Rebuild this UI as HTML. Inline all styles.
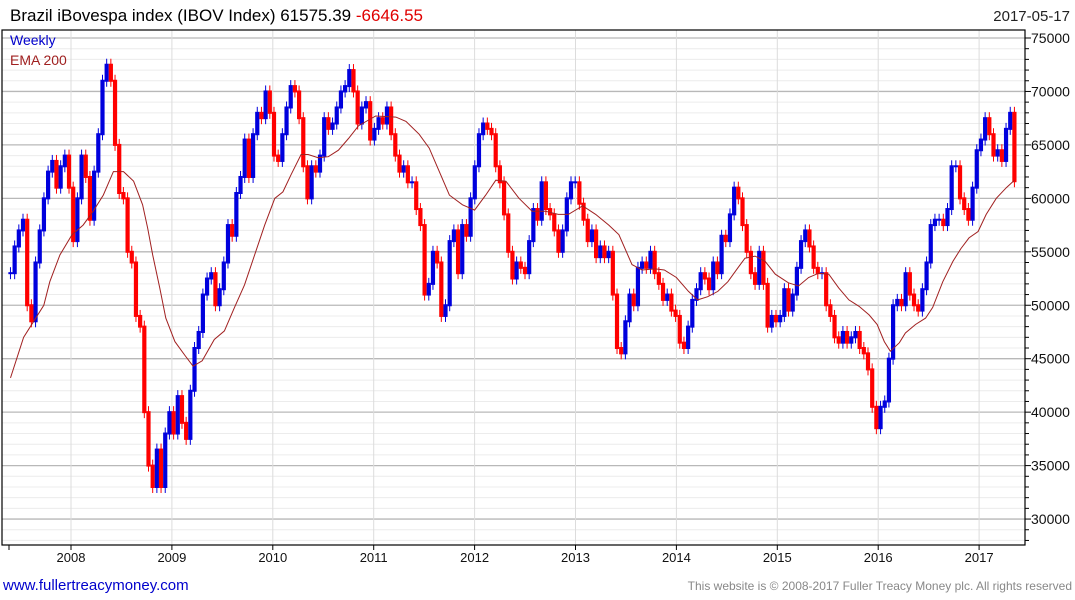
<!DOCTYPE html>
<html><head><meta charset="utf-8">
<style>
html,body{margin:0;padding:0;background:#fff;width:1075px;height:600px;overflow:hidden;font-family:"Liberation Sans",sans-serif}
svg{display:block}
</style></head><body>
<svg id="chart" width="1075" height="600" xmlns="http://www.w3.org/2000/svg">
<g id="grid"></g>
<g id="bars"></g>
<g id="ema"></g>
<g id="axes"></g>
<text x="10" y="21" font-size="17" fill="#000">Brazil iBovespa index (IBOV Index) 61575.39 <tspan fill="#e00000">-6646.55</tspan></text>
<text x="1070" y="21" font-size="15" fill="#222" text-anchor="end">2017-05-17</text>
<text x="10" y="45" font-size="14" fill="#0000cc">Weekly</text>
<text x="10" y="65" font-size="14" fill="#a02020">EMA 200</text>
<text x="3" y="590" font-size="15" fill="#0000cc">www.fullertreacymoney.com</text>
<text x="1072" y="590" font-size="12" fill="#888" text-anchor="end">This website is © 2008-2017 Fuller Treacy Money plc. All rights reserved</text>
</svg>
<script>
const yTicks=[30000,35000,40000,45000,50000,55000,60000,65000,70000,75000];
const yearLabels=["2008","2009","2010","2011","2012","2013","2014","2015","2016","2017"];
const barStart=2007.40, barEnd=2017.35;
const closes=[53000,55500,57000,58000,50000,48500,54000,57000,60000,62500,63500,61000,63000,64000,
61000,56000,60000,64000,62000,58000,62500,66000,71000,72500,71000,65000,60500,60000,55000,54000,49000,48000,40000,35000,33000,36500,33000,38000,
40000,38000,41500,39000,37500,42000,46000,47500,51000,52500,53000,50000,51500,54000,57500,56500,60500,62000,65500,62000,66000,68000,67500,70000,
68000,64000,63500,66000,68500,70500,70000,67500,63000,60000,63000,62500,64000,67500,66500,67000,68500,70000,70500,72000,70000,67000,68500,69000,
65500,66500,67500,67000,68500,66000,64000,62500,63000,61500,61500,59000,57500,51000,52000,55000,54000,49000,50000,56000,57000,53000,57500,56500,
60000,63000,66000,67000,66500,66000,63000,61500,58500,55000,52500,54000,53500,53000,56000,59000,58000,61500,59000,58500,57000,55000,57000,60000,
61500,61500,59500,58000,56000,57000,54500,55500,54500,55000,51000,46000,45500,48500,51000,50000,53500,54000,53500,55000,53000,52000,50500,51000,
49500,49000,46500,46000,48000,50500,51500,53000,52500,51500,54000,53000,56500,56000,58500,61000,60000,57500,55000,53000,52000,55000,52000,48000,
49000,48500,49000,51500,49500,51000,53500,56000,57000,55500,53500,53000,53000,50000,49000,47000,46500,47500,46500,47000,47500,46000,45500,44000,
40500,38500,40500,41000,45000,50000,50500,50000,53000,51000,50000,49500,51500,54000,57500,58000,58000,57500,59000,63000,63000,60000,59000,58000,
61000,64500,65500,67500,66000,64000,64500,63500,66500,68000,61600];
const emaDates=[2007.40,2007.53,2007.63,2007.73,2007.79,2007.89,2008.01,2008.12,2008.22,2008.32,2008.42,2008.52,2008.62,2008.71,2008.76,2008.81,2008.88,2008.94,2009.03,2009.13,2009.21,2009.30,2009.42,2009.52,2009.62,2009.72,2009.82,2009.92,2010.02,2010.10,2010.18,2010.28,2010.35,2010.45,2010.55,2010.65,2010.75,2010.85,
2011.02,2011.22,2011.32,2011.45,2011.55,2011.65,2011.75,2011.88,2012.00,2012.11,2012.21,2012.31,2012.44,2012.57,2012.70,2012.83,2012.93,2013.07,2013.20,2013.33,2013.43,2013.56,2013.66,2013.79,2013.88,2014.00,2014.12,2014.21,2014.31,
2014.41,2014.51,2014.61,2014.68,2014.78,2014.88,2014.98,2015.11,2015.21,2015.31,2015.41,2015.51,2015.61,2015.71,2015.81,2015.91,2015.99,2016.06,2016.12,2016.21,2016.27,2016.37,2016.47,2016.54,2016.64,2016.74,2016.82,2016.90,2016.99,2017.07,2017.17,2017.27,2017.35];
const emaValues=[43200,47000,48500,50000,52200,54700,56600,57500,58800,60300,62500,62500,61600,59400,57200,54700,51600,48800,46600,45300,44300,44800,46800,47600,49800,51900,54700,57500,60000,60600,62200,64100,64100,63800,63900,64500,65600,66800,
67700,67600,67200,66000,64700,62500,60300,59400,58900,60300,61700,61600,60000,58800,58800,58500,58500,59300,58500,57500,56600,53800,53300,53400,53300,52600,51300,50500,50800,
51300,52200,53500,54400,54600,54100,52900,52100,51800,52600,53000,52900,51600,50500,49900,49100,48200,46600,45700,46500,47400,48200,48800,49800,52200,54100,55300,56300,56900,58500,60000,61000,61700];

const NS="http://www.w3.org/2000/svg";
const L=2,R=1025,T=30,B=545;
function xs(t){return 71+(t-2008)*100.9;}
function ys(v){return 38+(75000-v)/1000*10.69;}
function mk(tag,attrs,parent){const e=document.createElementNS(NS,tag);for(const k in attrs)e.setAttribute(k,attrs[k]);parent.appendChild(e);return e;}
const grid=document.getElementById('grid'),axes=document.getElementById('axes'),bars=document.getElementById('bars'),emaG=document.getElementById('ema');
for(let v=28000;v<=75000;v+=1000){const y=ys(v);if(y<T||y>B)continue;
 const major=v%5000===0;
 const ln=mk('line',{x1:L,x2:R,y1:y,y2:y,stroke:major?'#b8b8b8':'#ececec','stroke-width':major?1.3:1},grid);
 
 
 const tk=mk('line',{x1:R,x2:R+(major?6:4),y1:y,y2:y,stroke:'#000'},axes);
 
 
}
yTicks.forEach(v=>{const t=mk('text',{x:R+6,y:ys(v)+5,'font-size':14,fill:'#111'},axes);t.textContent=v;
 
 });
yearLabels.forEach(s=>{const x=xs(+s);
 const g=mk('line',{x1:x,x2:x,y1:T,y2:B,stroke:'#dcdcdc'},grid);
 
 
 const tk=mk('line',{x1:x,x2:x,y1:B,y2:B+5,stroke:'#000'},axes);
 
 
 const t=mk('text',{x:x,y:B+17,'font-size':13,fill:'#111','text-anchor':'middle'},axes);t.textContent=s;
 
 });
const tk0=mk('line',{x1:9,x2:9,y1:B,y2:B+5,stroke:'#000'},axes);


const frame=mk('rect',{x:L,y:T,width:R-L,height:B-T,fill:'none',stroke:'#000','stroke-width':1.2},axes);


const n=closes.length,step=(barEnd-barStart)/(n-1);
for(let i=0;i<n;i++){
 const c=closes[i],o=i>0?closes[i-1]:c;
 const x=xs(barStart+i*step);
 const up=c>=o;
 const col=up?'#0000dd':'#ff0000';
 const y1=ys(Math.max(o,c)),y2=ys(Math.min(o,c));
 const w=mk('line',{x1:x,x2:x,y1:y1-6,y2:y2+6,stroke:col,'stroke-width':1},bars);
 
 
 const r=mk('rect',{x:x-2.1,y:y1-1,width:4.2,height:Math.max(2,y2-y1+2),fill:col},bars);
 
 
}
const pts=emaDates.map((d,i)=>xs(d).toFixed(1)+','+ys(emaValues[i]).toFixed(1)).join(' ');
const pl=mk('polyline',{points:pts,fill:'none',stroke:'#a02020','stroke-width':1},emaG);


</script>
</body></html>
